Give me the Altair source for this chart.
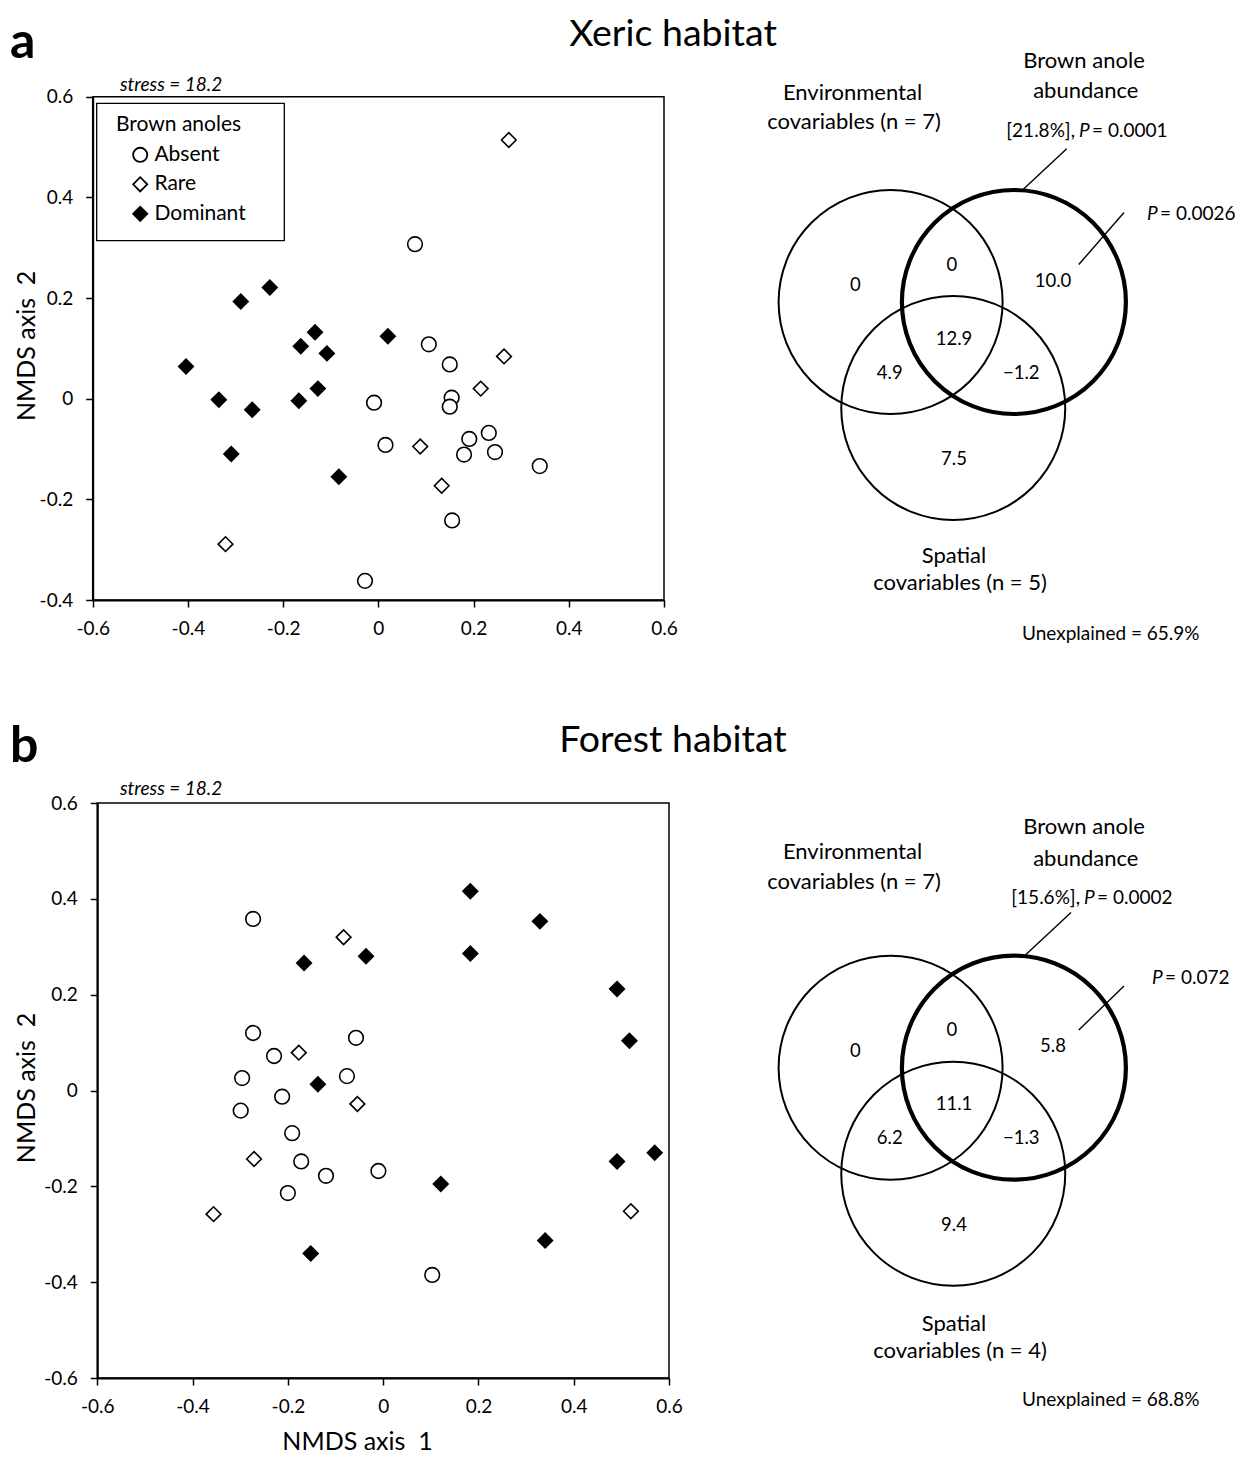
import altair as alt
import pandas as pd

# ------------------------------------------------------------------ data
STATUS = ["Absent", "Rare", "Dominant"]
LEGEND_TITLE = "Brown anoles"
STRESS = "stress = 18.2"

# panel a: xeric habitat NMDS scores
xeric_absent_x = [0.077, 0.106, 0.150, -0.009, 0.154, 0.150, 0.015, 0.191, 0.232, 0.180, 0.245, 0.339, 0.155, -0.028]
xeric_absent_y = [0.307, 0.108, 0.068, -0.008, 0.002, -0.016, -0.092, -0.080, -0.068, -0.111, -0.106, -0.134, -0.242, -0.362]
xeric_rare_x = [0.274, 0.264, 0.215, 0.088, 0.133, -0.321]
xeric_rare_y = [0.514, 0.084, 0.020, -0.095, -0.173, -0.289]
xeric_dominant_x = [-0.228, -0.289, -0.133, -0.163, -0.108, 0.020, -0.404, -0.335, -0.265, -0.167, -0.127, -0.309, -0.083]
xeric_dominant_y = [0.221, 0.193, 0.132, 0.104, 0.090, 0.124, 0.064, -0.002, -0.022, -0.004, 0.020, -0.110, -0.155]

# panel b: forest habitat NMDS scores
forest_absent_x = [-0.273, -0.273, -0.229, -0.057, -0.296, -0.076, -0.212, -0.299, -0.191, -0.172, -0.120, -0.010, -0.200, 0.103]
forest_absent_y = [0.358, 0.120, 0.072, 0.110, 0.026, 0.030, -0.013, -0.042, -0.089, -0.148, -0.178, -0.168, -0.214, -0.385]
forest_rare_x = [-0.083, -0.177, -0.054, -0.271, -0.356, 0.520]
forest_rare_y = [0.320, 0.079, -0.028, -0.143, -0.258, -0.252]
forest_dominant_x = [0.183, 0.329, 0.183, -0.036, -0.166, 0.491, 0.517, -0.137, 0.121, 0.491, 0.570, 0.340, -0.152]
forest_dominant_y = [0.416, 0.353, 0.286, 0.280, 0.266, 0.212, 0.104, 0.013, -0.195, -0.148, -0.130, -0.313, -0.340]

X_TICKS = [-0.6, -0.4, -0.2, 0.0, 0.2, 0.4, 0.6]
Y_TICKS_XERIC = [-0.4, -0.2, 0.0, 0.2, 0.4, 0.6]
Y_TICKS_FOREST = [-0.6, -0.4, -0.2, 0.0, 0.2, 0.4, 0.6]

# variation partitioning (regions: env, env&brown, brown, all, env&spatial, brown&spatial, spatial)
VENN_REGIONS = ["env", "env_brown", "brown", "all", "env_spatial", "brown_spatial", "spatial"]
xeric_parts = ["0", "0", "10.0", "12.9", "4.9", "\u22121.2", "7.5"]
forest_parts = ["0", "0", "5.8", "11.1", "6.2", "\u22121.3", "9.4"]
xeric_texts = ["Brown anole", "abundance", "Environmental", "covariables (n = 7)", "Spatial", "covariables (n = 5)"]
forest_texts = ["Brown anole", "abundance", "Environmental", "covariables (n = 7)", "Spatial", "covariables (n = 4)"]
xeric_brown_total = ["[21.8%],", "P", "= 0.0001"]
forest_brown_total = ["[15.6%],", "P", "= 0.0002"]
xeric_unique_p = ["P", "= 0.0026"]
forest_unique_p = ["P", "= 0.072"]
xeric_unexplained = "Unexplained = 65.9%"
forest_unexplained = "Unexplained = 68.8%"

# ------------------------------------------------------------------ layout (page pixels -> chart pixels)
W, H = 1231, 1448
FONT = "Lato"
LABEL_EXPR = "(datum.value < 0 ? '-' : '') + format(abs(datum.value), '.1~f')"


def cx_(v):
    return v - 8


def cy_(v):
    return v - 8


VENN_R = 112
VENN_CIRCLES = [(-61.65, 0, 2.0), (1.0, 106, 2.0), (61.65, 0, 4.2)]
REGION_POS = {
    "env": (-97, -17), "env_brown": (-0.5, -37.5), "brown": (100.75, -21.5),
    "all": (1.75, 36.5), "env_spatial": (-62.5, 70.5), "brown_spatial": (69, 70.5),
    "spatial": (1.75, 157),
}
LAYOUT_XERIC = dict(
    center=(cx_(952.25), cy_(302)),
    texts=[(131.75, -241), (133.5, -211), (-99.75, -209), (-98.25, -180), (1.75, 253.5), (7.75, 281)],
    p1=(126.75, -171), p2=(194.75, -88.5),
    lines=[(114.45, -153.2, 69.75, -111.6), (171.75, -89.5, 126.55, -37.5)],
    unexpl=(158.55, 332),
)
LAYOUT_FOREST = dict(
    center=(cx_(952.25), cy_(1067.7)),
    texts=[(131.75, -240.8), (133.5, -208.5), (-99.75, -216), (-98.25, -186), (1.75, 256), (7.75, 283.3)],
    p1=(131.75, -169.7), p2=(199.75, -89.7),
    lines=[(118.75, -155.1, 73.15, -112.7), (171.75, -81.7, 126.55, -37.7)],
    unexpl=(158.55, 332),
)
# legend box (page px)
LEG_BOX = (96.7, 103.3, 284.3, 240.7)


def points_frame(ax, ay, rx, ry, dx, dy):
    rows = []
    for s, xs, ys in (("Absent", ax, ay), ("Rare", rx, ry), ("Dominant", dx, dy)):
        rows += [{"x": a, "y": b, "status": s} for a, b in zip(xs, ys)]
    return pd.DataFrame(rows)


def scatter(df, xr, yr, ydom, yticks, show_legend, ytitle_x, xtitle=None, xtitle_pos=None):
    xs = alt.Scale(domain=[-0.6, 0.6], range=xr, nice=False, zero=False)
    ys = alt.Scale(domain=ydom, range=yr, nice=False, zero=False)
    common = dict(tickSize=7, tickWidth=1.5, tickColor="black", domainColor="black",
                  domainWidth=2, labelExpr=LABEL_EXPR, labelFont=FONT, labelFontSize=19,
                  labelColor="black", labelFlush=False, labelOverlap=False, grid=False,
                  titleFont=FONT, titleFontSize=25, titleFontWeight="normal", titleColor="black")
    if xtitle:
        xaxis = alt.Axis(orient="bottom", values=X_TICKS, offset=yr[0] - H, labelPadding=12,
                         title=xtitle, titleX=xtitle_pos[0], titleY=xtitle_pos[1] - yr[0], titleAngle=0,
                         titleAlign="center", titleBaseline="alphabetic", **common)
    else:
        xaxis = alt.Axis(orient="bottom", values=X_TICKS, offset=yr[0] - H, labelPadding=12,
                         title=None, **common)
    yaxis = alt.Axis(orient="left", values=yticks, offset=-xr[0], labelPadding=13,
                     title="NMDS axis\u00a0 2", titleX=ytitle_x - xr[0], titleY=(yr[0] + yr[1]) / 2 - 3,
                     titleAngle=270, titleAlign="center", titleBaseline="alphabetic", **common)
    frame_df = pd.DataFrame({"x0": [-0.6], "x1": [0.6], "y0": [ydom[0]], "y1": [ydom[1]]})
    frame = alt.Chart(frame_df).mark_rect(fill="transparent", stroke="black", strokeWidth=1.5).encode(
        x=alt.X("x0:Q", scale=xs, axis=xaxis), x2="x1:Q",
        y=alt.Y("y0:Q", scale=ys, axis=yaxis), y2="y1:Q")
    leg = alt.Legend(title=LEGEND_TITLE) if show_legend else None
    pts = alt.Chart(df).mark_point(filled=True, strokeWidth=1.6, size=215, opacity=1).encode(
        x=alt.X("x:Q", scale=xs, axis=xaxis),
        y=alt.Y("y:Q", scale=ys, axis=yaxis),
        shape=alt.Shape("status:N", scale=alt.Scale(domain=STATUS, range=["circle", "diamond", "diamond"]), legend=leg),
        fill=alt.Fill("status:N", scale=alt.Scale(domain=STATUS, range=["white", "white", "black"]), legend=leg),
        stroke=alt.Stroke("status:N", scale=alt.Scale(domain=STATUS, range=["black", "black", "black"]), legend=leg),
    )
    return alt.layer(frame, pts)


def venn(parts, texts, brown_total, unique_p, unexpl, lay):
    cx, cy = lay["center"]
    xs = alt.Scale(domain=[-300, 300], range=[cx - 300, cx + 300], nice=False, zero=False)
    ys = alt.Scale(domain=[-400, 400], range=[cy - 400, cy + 400], nice=False, zero=False)

    def enc(xf, yf):
        return dict(x=alt.X(xf, type="quantitative", scale=xs, axis=None),
                    y=alt.Y(yf, type="quantitative", scale=ys, axis=None))

    circ_df = pd.DataFrame([{"vx": a, "vy": b, "sw": w} for a, b, w in VENN_CIRCLES])
    circles = alt.Chart(circ_df).mark_point(shape="circle", size=(2 * VENN_R) ** 2, filled=False,
                                            stroke="black", opacity=1).encode(
        strokeWidth=alt.StrokeWidth("sw:Q", scale=None, legend=None), **enc("vx", "vy"))

    num_df = pd.DataFrame([{"t": v, "vx": REGION_POS[r][0], "vy": REGION_POS[r][1]}
                           for r, v in zip(VENN_REGIONS, parts)])
    nums = alt.Chart(num_df).mark_text(font=FONT, fontSize=18.5, color="black", align="center",
                                       baseline="middle").encode(text="t:N", **enc("vx", "vy"))

    lab_df = pd.DataFrame([{"t": t, "vx": p[0], "vy": p[1]} for t, p in zip(texts, lay["texts"])])
    labs = alt.Chart(lab_df).mark_text(font=FONT, fontSize=22, color="black", align="center",
                                       baseline="middle").encode(text="t:N", **enc("vx", "vy"))

    line_df = pd.DataFrame([{"x1": a, "y1": b, "x2": c, "y2": d} for a, b, c, d in lay["lines"]])
    lines = alt.Chart(line_df).mark_rule(color="black", strokeWidth=1.4).encode(
        x2="x2:Q", y2="y2:Q", **enc("x1", "y1"))

    p1x, p1y = lay["p1"]
    p2x, p2y = lay["p2"]
    right_df = pd.DataFrame([{"t": brown_total[0], "vx": p1x - 4, "vy": p1y}])
    ital_df = pd.DataFrame([{"t": brown_total[1], "vx": p1x, "vy": p1y},
                            {"t": unique_p[0], "vx": p2x, "vy": p2y}])
    left_df = pd.DataFrame([{"t": brown_total[2], "vx": p1x + 13, "vy": p1y},
                            {"t": unique_p[1], "vx": p2x + 13, "vy": p2y}])
    ptext = dict(font=FONT, fontSize=19, color="black", baseline="middle")
    t_right = alt.Chart(right_df).mark_text(align="right", **ptext).encode(text="t:N", **enc("vx", "vy"))
    t_ital = alt.Chart(ital_df).mark_text(align="left", fontStyle="italic", **ptext).encode(text="t:N", **enc("vx", "vy"))
    t_left = alt.Chart(left_df).mark_text(align="left", **ptext).encode(text="t:N", **enc("vx", "vy"))

    un_df = pd.DataFrame([{"t": unexpl, "vx": lay["unexpl"][0], "vy": lay["unexpl"][1]}])
    un = alt.Chart(un_df).mark_text(align="center", **ptext).encode(text="t:N", **enc("vx", "vy"))

    return alt.layer(circles, lines, nums, labs, t_right, t_ital, t_left, un)


def note(text, x, y, size, align="left", weight="normal", style="normal"):
    return alt.Chart(pd.DataFrame({"t": [text]})).mark_text(
        x=cx_(x), y=cy_(y), font=FONT, fontSize=size, align=align, baseline="alphabetic",
        fontWeight=weight, fontStyle=style, color="black").encode(text="t:N")


xeric_df = points_frame(xeric_absent_x, xeric_absent_y, xeric_rare_x, xeric_rare_y, xeric_dominant_x, xeric_dominant_y)
forest_df = points_frame(forest_absent_x, forest_absent_y, forest_rare_x, forest_rare_y, forest_dominant_x, forest_dominant_y)

scatter_a = scatter(xeric_df, [cx_(92.7), cx_(664)], [cy_(600), cy_(96.7)], [-0.4, 0.6], Y_TICKS_XERIC, True, cx_(34.3))
scatter_b = scatter(forest_df, [cx_(97.3), cx_(669)], [cy_(1378), cy_(803)], [-0.6, 0.6], Y_TICKS_FOREST, False,
                    cx_(34.3), xtitle="NMDS axis\u00a0 1", xtitle_pos=(cx_(357), cy_(1449)))
venn_a = venn(xeric_parts, xeric_texts, xeric_brown_total, xeric_unique_p, xeric_unexplained, LAYOUT_XERIC)
venn_b = venn(forest_parts, forest_texts, forest_brown_total, forest_unique_p, forest_unexplained, LAYOUT_FOREST)

legend_box = alt.Chart(pd.DataFrame({"t": [LEGEND_TITLE]})).mark_rect(
    fill="white", stroke="black", strokeWidth=1.3).encode(
    x=alt.value(cx_(LEG_BOX[0])), x2=alt.value(cx_(LEG_BOX[2])),
    y=alt.value(cy_(LEG_BOX[1])), y2=alt.value(cy_(LEG_BOX[3])))

notes = [
    note("a", 10, 58, 50, weight="bold"),
    note("b", 10, 762.3, 50, weight="bold"),
    note("Xeric habitat", 673, 45.5, 37.5, align="center"),
    note("Forest habitat", 673, 751.6, 37.5, align="center"),
    note(STRESS, 120, 90.7, 19, style="italic"),
    note(STRESS, 120, 795, 19, style="italic"),
]

chart = (
    alt.layer(scatter_a, scatter_b, legend_box, venn_a, venn_b, *notes)
    .resolve_scale(x="independent", y="independent")
    .properties(width=W, height=H, autosize=alt.AutoSizeParams(type="none"), padding=0,
                background="white")
    .configure(font=FONT)
    .configure_view(strokeWidth=0)
    .configure_legend(orient="none", legendX=cx_(116), legendY=cy_(114.3), direction="vertical", padding=0,
                      titleFont=FONT, titleFontSize=21, titleFontWeight="normal", titleColor="black",
                      titlePadding=9, labelFont=FONT, labelFontSize=21, labelColor="black",
                      symbolSize=200, symbolStrokeWidth=1.8, symbolStrokeColor="black",
                      symbolOffset=13.7, labelOffset=3.7, rowPadding=6.5, symbolOpacity=1)
)

chart.save("out.html", embed_options={"renderer": "svg", "actions": False})
